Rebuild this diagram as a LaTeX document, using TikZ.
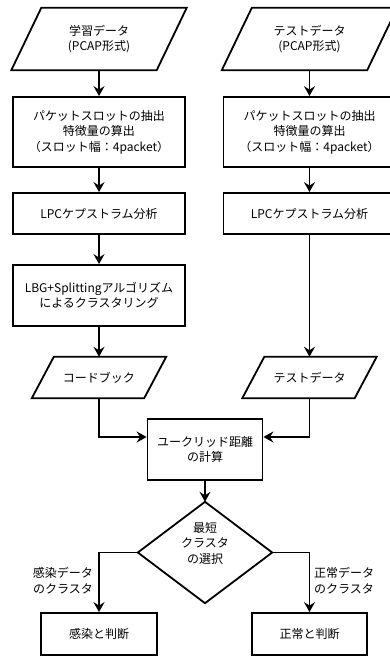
\documentclass[tikz,border=0pt]{standalone}
\usepackage{fontspec}
\setmainfont{Noto Sans CJK JP}
\usetikzlibrary{arrows.meta}
\begin{document}
\begin{tikzpicture}[x=1pt,y=-1pt,
  every node/.style={font=\fontsize{12}{15.5}\selectfont, inner sep=0pt, align=center},
  ln/.style={line width=1.8pt, line join=miter},
  blk/.style={draw, ln, rectangle},
  arr/.style={ln, -{Stealth[length=10pt,width=11pt,inset=3.5pt]}}
]
\useasboundingbox (0,0) rectangle (390,657);
\clip (0,0) rectangle (390,657);
\newcommand\paral[2]{\draw[ln] ([xshift=#2]#1.north west) -- (#1.north east) -- ([xshift=-#2]#1.south east) -- (#1.south west) -- cycle;}

% left column
\node (p1) [minimum width=175pt, minimum height=62pt] at (99,39) {学習データ\\(PCAP形式)};
\paral{p1}{30pt}
\node (b1) [blk, minimum width=172pt, minimum height=70pt] at (99,132) {パケットスロットの抽出\\特徴量の算出\\（スロット幅：4packet）};
\node (b2) [blk, minimum width=172pt, minimum height=41pt] at (99,213.5) {LPCケプストラム分析};
\node (b3) [blk, minimum width=172pt, minimum height=61pt] at (99,295.5) {LBG+Splittingアルゴリズム\\によるクラスタリング};
\node (p2) [minimum width=134pt, minimum height=41pt] at (99,377.5) {コードブック};
\paral{p2}{22pt}

% right column
\node (p3) [minimum width=175pt, minimum height=62pt] at (309.5,39) {テストデータ\\(PCAP形式)};
\paral{p3}{30pt}
\node (b4) [blk, minimum width=172pt, minimum height=70pt] at (309.5,132) {パケットスロットの抽出\\特徴量の算出\\（スロット幅：4packet）};
\node (b5) [blk, minimum width=172pt, minimum height=41pt] at (309.5,213.5) {LPCケプストラム分析};
\node (p4) [minimum width=134pt, minimum height=41pt] at (309.5,377.5) {テストデータ};
\paral{p4}{22pt}

% center
\node (e) [blk, minimum width=115pt, minimum height=61pt] at (205,449.5) {ユークリッド距離\\の計算};
\node (d) [minimum width=134pt, minimum height=101pt] at (205,552.5) {};
\draw[ln] (d.north) -- (d.east) -- (d.south) -- (d.west) -- cycle;
\node (dt) at (205,543) {最短\\クラスタ\\の選択};

\node (r1) [blk, minimum width=116pt, minimum height=42pt] at (99,634) {感染と判断};
\node (r2) [blk, minimum width=115pt, minimum height=42pt] at (309.5,634) {正常と判断};

\node (l1) [anchor=east, align=right] at (93,580.5) {感染データ\\のクラスタ};
\node (l2) [anchor=west, align=left] at (314,580.5) {正常データ\\のクラスタ};

% connectors
\draw[arr] (p1) -- (b1);
\draw[arr] (b1) -- (b2);
\draw[arr] (b2) -- (b3);
\draw[arr] (b3) -- (p2);
\draw[arr] (p3) -- (b4);
\draw[arr] (b4) -- (b5);
\draw[arr] (b5) -- (p4);
\draw[arr] (p2.south) |- ([yshift=12.5pt]e.west);
\draw[arr] (p4.south) |- ([yshift=12.5pt]e.east);
\draw[arr] (e) -- (d.north);
\draw[arr] (d.west) -| (r1.north);
\draw[arr] (d.east) -| (r2.north);
\end{tikzpicture}
\end{document}
